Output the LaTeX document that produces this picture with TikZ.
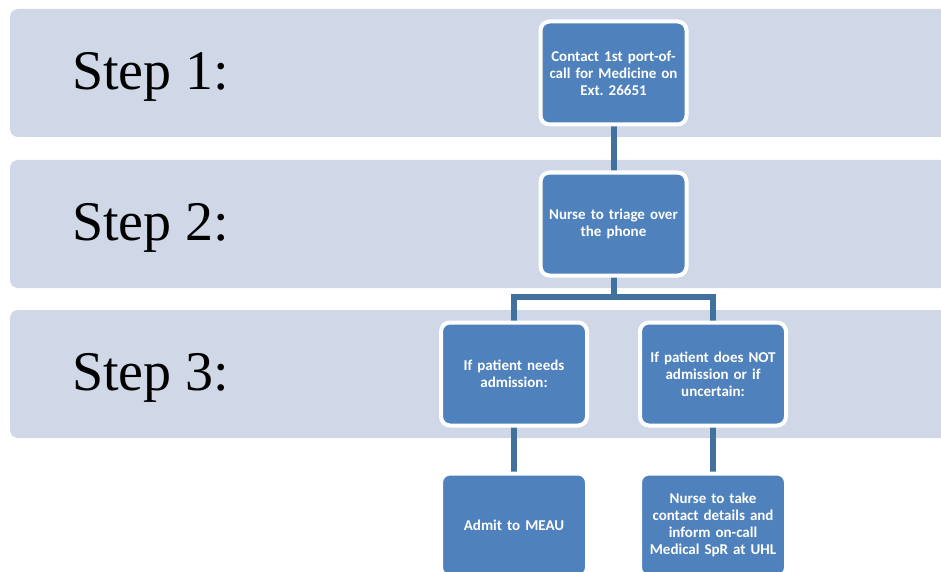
\documentclass[tikz,border=0pt]{standalone}
\usepackage{fontspec}
\setmainfont{Liberation Serif}
\newfontfamily\boxfont{Carlito}
\definecolor{bandfill}{HTML}{D0D8E8}
\definecolor{boxfill}{HTML}{4F81BD}
\definecolor{linkcol}{HTML}{41719C}
\pgfdeclarelayer{bg}
\pgfdeclarelayer{links}
\pgfsetlayers{bg,links,main}
\begin{document}
\begin{tikzpicture}[x=1pt,y=-1pt,
  band/.style={fill=bandfill,rounded corners=8pt},
  steplabel/.style={anchor=base west,inner sep=0pt,font=\fontsize{56}{60}\selectfont},
  flowbox/.style={draw=white,line width=4pt,fill=boxfill,rounded corners=9pt,
    minimum width=146pt,minimum height=103pt,text width=144pt,align=center,
    text=white,font=\boxfont\bfseries\fontsize{15}{17}\selectfont,inner sep=0pt},
  link/.style={draw=linkcol,line width=6pt}]
\useasboundingbox (0,0) rectangle (941,572);
\clip (0,0) rectangle (941,572);
\begin{pgfonlayer}{bg}
  \path[band] (10,9) rectangle (960,137);
  \path[band] (10,160) rectangle (960,288);
  \path[band] (10,310) rectangle (960,438);
\end{pgfonlayer}
\node[steplabel] (s1) at (72,90) {Step 1:};
\node[steplabel] (s2) at (72,240) {Step 2:};
\node[steplabel] (s3) at (72,390) {Step 3:};
\node[flowbox] (b1) at (613.5,73) {Contact 1st port-of-\\call for Medicine on\\Ext.\ 26651};
\node[flowbox] (b2) at (613.5,224) {Nurse to triage over\\the phone};
\node[flowbox] (b3l) at (514,374) {If patient needs\\admission:};
\node[flowbox] (b3r) at (713,374) {If patient does NOT\\admission or if\\uncertain:};
\node[flowbox] (b4l) at (514,525) {Admit to MEAU};
\node[flowbox] (b4r) at (713,525) {Nurse to take\\contact details and\\inform on-call\\Medical SpR at UHL};
\coordinate (j) at (613.5,297);
\begin{pgfonlayer}{links}
  \draw[link] (b1.center) -- (b2.center);
  \draw[link] (b2.center) -- (j) -| (b3l.center);
  \draw[link] (j) -| (b3r.center);
  \draw[link] (b3l.center) -- (b4l.center);
  \draw[link] (b3r.center) -- (b4r.center);
\end{pgfonlayer}
\end{tikzpicture}
\end{document}
